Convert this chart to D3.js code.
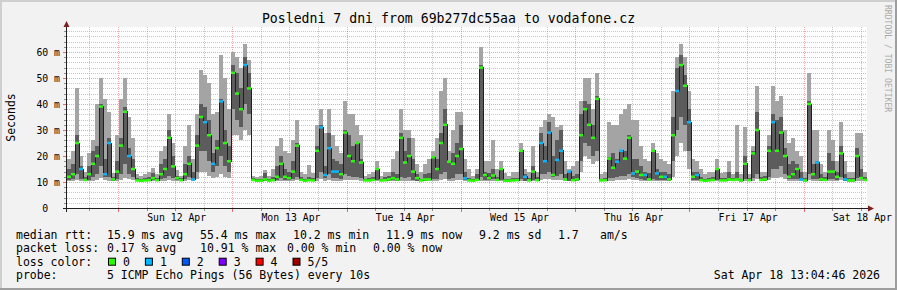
<!DOCTYPE html>
<html>
<head>
<meta charset="utf-8">
<script src="https://cdn.jsdelivr.net/npm/d3@7"></script>
<style>
  body { margin: 0; background: #f2f2f2; }
  svg { display: block; }
  text { font-family: "DejaVu Sans Mono", monospace; fill: #000; white-space: pre; }
</style>
</head>
<body>
<div id="chart"></div>
<script>
// Smoke values, 200 steps over 7 days, in ms
// lo/hi = outer smoke band, q1/q3 = inner smoke band, med = median
const lo = [
  10.3,10.4,10.8,10.5,10.2,10.3,10.5,10.8,11.5,10.8,
  10.5,10.2,10.4,10.8,11.5,11,10.6,10.2,10.1,10.2,
  10.2,10.3,10.2,10.4,10.5,10.8,10.5,10.3,10.2,10.4,
  10.6,10.3,11,14,14,12.5,11.5,12,13,12,
  11.5,28,28,26,30,28,10.2,10.1,10.1,10.2,
  10.1,10.2,10.3,10.5,10.3,10.3,10.4,10.6,10.2,10.1,
  10.2,10.2,10.5,11,10.5,10.8,10.5,10.5,10.4,10.8,
  10.8,10.6,10.6,10.5,10.2,10.2,10.2,10.3,10.2,10.2,
  10.2,10.3,10.2,10.5,10.5,10.5,10.3,10.2,10.2,10.2,
  10.3,10.4,10.4,10.8,11,10.4,10.5,10.8,10.8,10.3,
  10.2,10.1,10.2,10.5,10.3,10.3,10.4,10.2,10.3,10.1,
  10.1,10.2,10.2,10.4,10.2,10.2,10.3,10.2,10.8,11,
  11,10.6,10.8,10.8,10.3,10.2,10.2,10.2,14,20,
  19,17,18,10.2,10.2,10.5,10.5,10.6,10.8,10.8,
  11,10.8,10.6,10.4,10.3,10.3,10.4,10.3,10.3,10.3,
  10.2,12,20,25,22,15,10.4,10.3,10.2,10.1,
  10.2,10.2,10.3,10.2,10.2,10.3,10.2,10.3,10.1,10.4,
  10.2,10.5,11,10.2,10.2,10.6,11.5,11.5,12,11,
  10.4,10.5,10.4,10.3,10.1,10.8,10.4,10.4,10.2,10.2,
  10.4,10.4,10.3,10.6,10.3,10.1,10.1,10.5,10.4,10.2
];
const q1 = [
  10.8,11,13,11,10.5,10.8,12,13,16,12,
  12,10.5,11,13,17,13,12,10.4,10.3,10.4,
  10.4,10.6,10.4,11,11.5,12.5,11.5,10.6,10.4,11,
  12,10.6,14,22,22,18,14,16,20,16,
  14,38,34,31,40,36,10.5,10.3,10.3,10.5,
  10.3,10.4,10.8,11.5,10.8,10.6,11,12,10.5,10.3,
  10.4,10.4,11.5,14,11.5,13,11.5,11.5,11,13,
  12.5,12,12,11.5,10.4,10.4,10.5,10.7,10.4,10.4,
  10.5,10.6,10.5,12,11.5,12,10.8,10.5,10.4,10.5,
  10.6,11,11,13,14,11,11.5,13,13,10.6,
  10.4,10.3,10.4,12,10.6,10.6,11,10.5,10.6,10.3,
  10.3,10.4,10.4,11,10.5,10.4,10.8,10.4,13,13,
  14,12,12.5,13,10.6,10.5,10.4,10.5,18,25,
  24,20,22,10.4,10.4,11.5,11.5,12,12.5,12.5,
  13,12,11.5,11,10.6,10.6,11,10.8,10.6,10.6,
  10.5,18,30,35,32,22,10.8,10.6,10.4,10.3,
  10.4,10.4,10.7,10.4,10.4,10.6,10.4,10.6,10.3,11,
  10.4,11.5,13,10.4,10.4,12,15,15,16,13,
  11,11.2,11,10.6,10.3,13,11,11,10.5,10.4,
  11,11,10.6,12,10.5,10.3,10.3,11.5,11,10.4
];
const med = [
  12,13,25,15,10.8,13,17,20,39,13,
  25,11,14,24,37,20,15,10.6,10.5,10.6,
  10.7,11.5,10.7,13,15,27,16,11.5,10.7,13,
  17,11,24,35,33,28,17,23,41,25,
  18,52,44,38,55,46,10.8,10.5,10.5,11,
  10.5,10.7,12,17,12,11.5,14,24,10.8,10.5,
  10.7,10.6,22,31,12.7,23,14,14,13,29,
  20,18,25,17.5,10.6,10.6,10.8,15,10.6,10.7,
  11,11.5,11,27,17.5,20,14,11.5,10.6,11,
  11,19.5,15,25,32,17.8,17,20,22.7,11.4,
  10.6,10.5,10.8,54,12.7,11.5,12.5,10.8,15,10.5,
  10.5,10.6,10.7,22,12,10.6,14,10.7,25,18,
  29,12.7,18.5,22,11,14,10.7,11,28,38,
  32,27,42,10.6,10.7,19,15.5,17.8,22,19,
  27,13.3,14,12.7,12.7,11,22,13.3,12,12,
  11,28,45,55,47,33,12,12.7,10.7,10.5,
  10.6,10.8,15,10.6,10.6,11,10.8,11,10.6,17,
  10.7,21,30,10.8,11,22,33,22,29,20,
  12,13,15,11,10.6,40,13,17.5,11,10.8,
  14,14,12,21,11,10.6,10.6,20,11.5,10.8
];
const q3 = [
  15,17,28,16,12,16,22,24,40,19,
  27,12,18,27,39,23,19,11.5,11.2,11.4,
  12,13.5,11.5,17,19,30,20,12.5,11.5,17,
  20,14,28,40,39,34,21,26,42,30,
  24,55,52,46,58,52,11.5,11,11,13.5,
  11,12,16,20,15,14,18,25,12,11.2,
  12,11.5,24,32,16,29,19,18,17,30,
  28,24,25.5,19,11.2,11.5,12,15.5,11.2,12,
  12.5,14,13,29,22,27,19,13,11.2,13,
  13.5,20,19,29,38,18,21,25,32,14,
  11.5,11,13,55,14,13.5,15,12,15.5,11.2,
  11,11.5,11.5,22.5,13,11.5,16,12,29,24,
  33,20,26,30,13,14.2,12.5,13,36,41,
  40,32,43,11.2,11.5,19.5,21,19,22.5,22,
  28,19,19,16,14,13.5,22.5,15,14,14,
  13,35,54,59,51,38,14,14,12,11.2,
  11.5,12,15.5,11.5,11.5,14,11.5,14,11.2,20,
  11.5,22,37,12,12.5,24,36,34,35,23,
  17,18,17,14,11.5,41,17,18,13,12,
  21,18,14,24,13,11.5,11.5,23,15,12
];
const hi = [
  19,22,46,20,14,21,26,40,50,42,
  37,13.5,28,42,50,35,27,13,12.5,13,
  14,15.5,13,22,24,36,25,14.5,12.5,24,
  32,19,36,53,51,48,36,37,59,50,
  38,60,58,54,63,57,12.5,12,12.5,14.5,
  12.5,15,24,27,22,21,26,34,14,13,
  16.5,13.5,32,38,29,38,28,24,21,41,
  36,36,32,28,12.5,13,14,18,12.5,14,
  14,19,22,38,30,30,27,17,14,17,
  19,22,27,45,50,22,30,37,37,19,
  15,12.5,15,62,18,18,26,15,18,13.5,
  12.5,14,14,25,15,14,24,14,31,34,
  36,35,31,32,18,15,16,18,41,50,
  50,38,52,13,14,33,32,32,36,38,
  40,34,34,24,19,18,25,21,19,18,
  17,45,58,63,58,45,19,18,15,13,
  14,14,19,13.5,14,18,13,32,13,31,
  13,24,47,14,14,28,47,41,43,30,
  25,27,22,20,14,52,30,30,17,14,
  30,26,18,33,18,14,14,29,29,14
];
// lost pings per step (index into lossColors)
const loss = [
  0,0,0,1,0,0,0,0,0,1,
  1,0,0,0,0,1,0,0,0,0,
  0,0,0,0,0,0,0,0,0,0,
  0,1,0,0,1,0,1,0,1,0,
  0,0,0,0,1,0,0,0,0,0,
  0,0,0,0,0,0,0,0,0,0,
  0,0,0,1,1,1,1,1,0,0,
  0,0,0,0,0,0,0,0,0,0,
  0,0,0,0,0,0,0,0,0,0,
  0,0,0,0,0,0,0,0,0,1,
  0,0,0,0,0,0,0,0,0,0,
  0,0,0,0,1,0,0,0,1,1,
  1,0,1,1,0,1,0,0,0,0,
  0,0,0,0,0,0,0,1,1,0,
  0,1,0,0,1,0,0,1,0,1,
  0,0,1,0,0,1,0,1,0,0,
  0,0,0,0,0,0,0,0,0,0,
  0,0,0,0,0,0,1,0,0,0,
  0,0,0,1,0,0,0,1,0,0,
  0,0,0,0,1,0,0,0,0,0
];

const lossColors = ["#26ff00", "#00b8ff", "#0059ff", "#7e00ff", "#ff0000", "#a10000"];
const lossLabels = ["0", "1", "2", "3", "4", "5/5"];
const yTicks = [0, 10, 20, 30, 40, 50, 60];
const yTickLabels = ["0  ", "10 m", "20 m", "30 m", "40 m", "50 m", "60 m"];
const rttStats = ["15.9 ms avg", "55.4 ms max", "10.2 ms min", "11.9 ms now", "9.2 ms sd", "1.7", "am/s"];
const lossStats = ["0.17 % avg", "10.91 % max", "0.00 % min", "0.00 % now"];
const title = "Posledni 7 dni from 69b277dc55aa to vodafone.cz";
const probeText = "5 ICMP Echo Pings (56 Bytes) every 10s";
const stampText = "Sat Apr 18 13:04:46 2026";

// Layout
const W = 897, H = 290;
const plotLeft = 67, plotRight = 867, plotTop = 27, plotBottom = 208;
const rttCols = [107, 200, 293, 386, 479, 558, 600];
const lossCols = [107, 200, 287, 373];
const legendRows = [238.5, 252, 265.7, 279.3];

const tStart = new Date(2026, 3, 11, 13, 4, 46);
const tEnd = new Date(2026, 3, 18, 13, 4, 46);
const N = med.length;
const stepMs = (tEnd - tStart) / N;
const times = d3.range(N + 1).map(i => new Date(+tStart + i * stepMs));

const x = d3.scaleTime().domain([tStart, tEnd]).range([plotLeft, plotRight]);
const y = d3.scaleLinear().domain([0, (plotBottom - plotTop) / 2.6]).range([plotBottom, plotTop]);

const svg = d3.select("#chart")
    .append("svg")
    .attr("width", W)
    .attr("height", H);

// Background and shaded frame
svg.append("rect").attr("width", W).attr("height", H).attr("fill", "#f2f2f2");
svg.append("rect").attr("width", W).attr("height", 2).attr("fill", "#cfcfcf");
svg.append("rect").attr("width", 2).attr("height", H).attr("fill", "#cfcfcf");
svg.append("rect").attr("y", H - 2).attr("width", W).attr("height", 2).attr("fill", "#9e9e9e");
svg.append("rect").attr("x", W - 2).attr("width", 2).attr("height", H).attr("fill", "#9e9e9e");

// Canvas
svg.append("rect")
    .attr("x", plotLeft).attr("y", plotTop)
    .attr("width", plotRight - plotLeft).attr("height", plotBottom - plotTop)
    .attr("fill", "#ffffff");

// Grid
const px = v => Math.floor(v - 0.5) + 0.5;
const days = d3.timeDay.range(tStart, tEnd);
const sixHours = d3.timeHour.every(6).range(tStart, tEnd).filter(d => d.getHours() !== 0);
const yMinor = y.ticks(35).filter(v => v % 10 !== 0);
const yMajor = yTicks.filter(v => v > 0);

const grid = svg.append("g").attr("shape-rendering", "crispEdges").attr("stroke-dasharray", "1,1");

grid.selectAll(".vminor").data(sixHours).enter().append("line")
    .attr("x1", d => px(x(d))).attr("x2", d => px(x(d)))
    .attr("y1", plotTop).attr("y2", plotBottom)
    .attr("stroke", "#8f8f8f").attr("stroke-opacity", 0.5);

grid.selectAll(".hminor").data(yMinor).enter().append("line")
    .attr("x1", plotLeft).attr("x2", plotRight)
    .attr("y1", d => Math.round(y(d)) + 0.5).attr("y2", d => Math.round(y(d)) + 0.5)
    .attr("stroke", "#8f8f8f").attr("stroke-opacity", 0.5);

grid.selectAll(".vmajor").data(days).enter().append("line")
    .attr("x1", d => px(x(d))).attr("x2", d => px(x(d)))
    .attr("y1", plotTop).attr("y2", plotBottom)
    .attr("stroke", "#de4f4f").attr("stroke-opacity", 0.5);

grid.selectAll(".hmajor").data(yMajor).enter().append("line")
    .attr("x1", plotLeft).attr("x2", plotRight)
    .attr("y1", d => Math.round(y(d)) + 0.5).attr("y2", d => Math.round(y(d)) + 0.5)
    .attr("stroke", "#de4f4f").attr("stroke-opacity", 0.5);

// Smoke: outer band then inner band
const steps = d3.range(N);
const smoke = svg.append("g").attr("shape-rendering", "crispEdges");

smoke.selectAll(".outer").data(steps).enter().append("rect")
    .attr("x", i => x(times[i]))
    .attr("width", i => x(times[i + 1]) - x(times[i]))
    .attr("y", i => y(hi[i]))
    .attr("height", i => y(lo[i]) - y(hi[i]))
    .attr("fill", "#a4a4a4");

smoke.selectAll(".inner").data(steps).enter().append("rect")
    .attr("x", i => x(times[i]))
    .attr("width", i => x(times[i + 1]) - x(times[i]))
    .attr("y", i => y(q3[i]))
    .attr("height", i => y(q1[i]) - y(q3[i]))
    .attr("fill", "#5c5c5c");

// Median line
const medPoints = steps.map(i => [times[i], med[i]]).concat([[times[N], med[N - 1]]]);
const medLine = d3.line()
    .x(d => x(d[0]))
    .y(d => y(d[1]))
    .curve(d3.curveStepAfter);

svg.append("path")
    .attr("d", medLine(medPoints))
    .attr("fill", "none")
    .attr("stroke", "#202020")
    .attr("stroke-width", 1)
    .attr("shape-rendering", "crispEdges");

// Median marks coloured by loss
svg.append("g").selectAll("rect").data(steps).enter().append("rect")
    .attr("x", i => x(times[i]))
    .attr("width", i => x(times[i + 1]) - x(times[i]))
    .attr("y", i => y(med[i]) - 1.25)
    .attr("height", 2.5)
    .attr("fill", i => lossColors[loss[i]]);

// Tick marks on the axes
const ticks = svg.append("g").attr("shape-rendering", "crispEdges");
ticks.selectAll(".xt").data(sixHours).enter().append("line")
    .attr("x1", d => px(x(d))).attr("x2", d => px(x(d)))
    .attr("y1", plotBottom).attr("y2", plotBottom + 3)
    .attr("stroke", "#8f8f8f");
ticks.selectAll(".xT").data(days).enter().append("line")
    .attr("x1", d => px(x(d))).attr("x2", d => px(x(d)))
    .attr("y1", plotBottom).attr("y2", plotBottom + 4)
    .attr("stroke", "#de4f4f").attr("stroke-opacity", 0.8);
ticks.selectAll(".yt").data(yMinor).enter().append("line")
    .attr("x1", plotLeft - 3).attr("x2", plotLeft)
    .attr("y1", d => Math.round(y(d)) + 0.5).attr("y2", d => Math.round(y(d)) + 0.5)
    .attr("stroke", "#8f8f8f");
ticks.selectAll(".yT").data(yMajor).enter().append("line")
    .attr("x1", plotLeft - 4).attr("x2", plotLeft)
    .attr("y1", d => Math.round(y(d)) + 0.5).attr("y2", d => Math.round(y(d)) + 0.5)
    .attr("stroke", "#de4f4f").attr("stroke-opacity", 0.8);

// Axis lines and arrows
svg.append("line")
    .attr("x1", plotLeft - 4).attr("x2", plotRight + 3)
    .attr("y1", plotBottom + 0.5).attr("y2", plotBottom + 0.5)
    .attr("stroke", "#1f1f1f").attr("shape-rendering", "crispEdges");
svg.append("line")
    .attr("x1", plotLeft - 0.5).attr("x2", plotLeft - 0.5)
    .attr("y1", plotBottom + 4).attr("y2", plotTop - 2)
    .attr("stroke", "#1f1f1f").attr("shape-rendering", "crispEdges");
svg.append("path")
    .attr("d", `M${plotRight + 1},${plotBottom - 2.5}L${plotRight + 7},${plotBottom + 0.5}L${plotRight + 1},${plotBottom + 3.5}Z`)
    .attr("fill", "#801f1f");
svg.append("path")
    .attr("d", `M${plotLeft - 3.5},${plotTop}L${plotLeft - 0.5},${plotTop - 6}L${plotLeft + 2.5},${plotTop}Z`)
    .attr("fill", "#801f1f");

// Axis labels: one per day, at noon
const dayLabels = d3.timeDay.range(d3.timeDay.ceil(tStart), tEnd).map(d => d3.timeHour.offset(d, 12));

svg.append("g")
    .attr("transform", `translate(0,${plotBottom})`)
    .call(d3.axisBottom(x).tickValues(dayLabels).tickFormat(d3.timeFormat("%a %d %b")).tickSize(0).tickPadding(6))
    .call(g => g.select(".domain").remove())
    .selectAll("text")
    .attr("fill", "#000")
    .style("font-family", "'DejaVu Sans Mono', monospace")
    .style("font-size", "9.8px");

svg.append("g")
    .attr("transform", `translate(${plotLeft - 0.5},0)`)
    .call(d3.axisLeft(y).tickValues(yTicks).tickFormat((d, i) => yTickLabels[i]).tickSize(0).tickPadding(6.5))
    .call(g => g.select(".domain").remove())
    .selectAll("text")
    .attr("fill", "#000")
    .attr("dy", "0.35em")
    .style("font-family", "'DejaVu Sans Mono', monospace")
    .style("font-size", "9.8px");

// Title and side labels
svg.append("text")
    .attr("x", W / 2).attr("y", 22.7)
    .attr("text-anchor", "middle")
    .style("font-size", "13.2px")
    .text(title);

svg.append("text")
    .attr("transform", `translate(15,${(plotTop + plotBottom) / 2}) rotate(-90)`)
    .attr("text-anchor", "middle")
    .style("font-size", "11.5px")
    .text("Seconds");

svg.append("text")
    .attr("transform", "translate(885,5) rotate(90)")
    .style("font-size", "8.1px")
    .style("fill", "#aaaaaa")
    .text("RRDTOOL / TOBI OETIKER");

// Legend
const legend = svg.append("g").style("font-size", "11.5px");

legend.append("text").attr("x", 16).attr("y", legendRows[0]).text("median rtt:");
rttStats.forEach((s, i) => legend.append("text").attr("x", rttCols[i]).attr("y", legendRows[0]).text(s));

legend.append("text").attr("x", 16).attr("y", legendRows[1]).text("packet loss:");
lossStats.forEach((s, i) => legend.append("text").attr("x", lossCols[i]).attr("y", legendRows[1]).text(s));

legend.append("text").attr("x", 16).attr("y", legendRows[2]).text("loss color:");
lossLabels.forEach((s, i) => {
    const bx = 108.5 + i * 36.9;
    legend.append("rect")
        .attr("x", bx).attr("y", legendRows[2] - 7.5)
        .attr("width", 7).attr("height", 7)
        .attr("fill", lossColors[i])
        .attr("stroke", "#000").attr("stroke-width", 1);
    legend.append("text").attr("x", bx + 14.5).attr("y", legendRows[2]).text(s);
});

legend.append("text").attr("x", 16).attr("y", legendRows[3]).text("probe:");
legend.append("text").attr("x", 107).attr("y", legendRows[3]).text(probeText);
legend.append("text").attr("x", 880).attr("y", legendRows[3]).attr("text-anchor", "end").text(stampText);
</script>
</body>
</html>
